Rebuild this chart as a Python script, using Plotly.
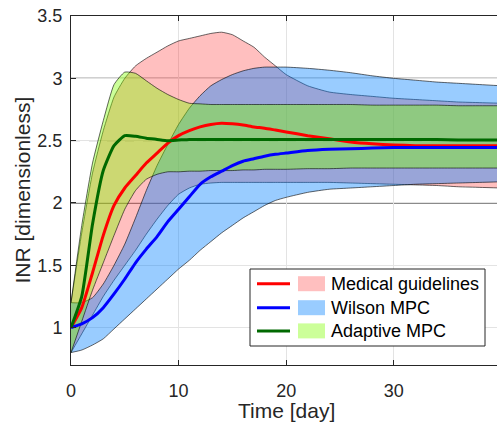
import plotly.graph_objects as go

# ---------------- data ----------------
T = [0, 1, 2, 3, 4, 5, 6, 7, 8, 9, 10, 11, 12, 13, 14, 15, 16, 17, 18, 19, 20,
     22, 24, 26, 28, 30, 32, 34, 36, 38, 40]

med_mean = [1.00, 1.16, 1.44, 1.74, 1.98, 2.12, 2.22, 2.32, 2.40, 2.48, 2.54, 2.58, 2.61, 2.63, 2.64,
            2.635, 2.625, 2.61, 2.60, 2.585, 2.57, 2.54, 2.515, 2.49, 2.475, 2.465, 2.46, 2.46, 2.46, 2.46, 2.46]
med_upper = [1.20, 1.76, 2.24, 2.58, 2.85, 3.00, 3.10, 3.16, 3.21, 3.26, 3.30, 3.32, 3.34, 3.36, 3.37,
             3.35, 3.30, 3.25, 3.17, 3.10, 3.03, 2.94, 2.89, 2.87, 2.855, 2.84, 2.83, 2.82, 2.81, 2.805, 2.80]
med_lower = [0.80, 0.95, 1.10, 1.25, 1.38, 1.50, 1.62, 1.75, 1.87, 1.98, 2.07, 2.12, 2.15, 2.16, 2.165,
             2.165, 2.165, 2.165, 2.165, 2.165, 2.165, 2.165, 2.165, 2.16, 2.155, 2.15, 2.145, 2.14, 2.13, 2.125, 2.12]

wil_mean = [1.00, 1.03, 1.08, 1.16, 1.27, 1.39, 1.52, 1.63, 1.73, 1.85, 1.95, 2.05, 2.15, 2.21, 2.255,
            2.30, 2.335, 2.355, 2.375, 2.39, 2.40, 2.42, 2.43, 2.435, 2.44, 2.445, 2.445, 2.445, 2.445, 2.445, 2.445]
wil_upper = [1.20, 1.20, 1.24, 1.35, 1.50, 1.67, 1.88, 2.10, 2.30, 2.47, 2.63, 2.76, 2.86, 2.94, 2.99,
             3.03, 3.06, 3.08, 3.09, 3.09, 3.09, 3.08, 3.065, 3.045, 3.02, 3.00, 2.985, 2.97, 2.96, 2.95, 2.94]
wil_lower = [0.80, 0.82, 0.86, 0.91, 0.99, 1.07, 1.15, 1.23, 1.31, 1.39, 1.47, 1.54, 1.62, 1.69, 1.76,
             1.82, 1.88, 1.93, 1.98, 2.02, 2.045, 2.085, 2.11, 2.12, 2.13, 2.14, 2.15, 2.155, 2.16, 2.165, 2.17]

ada_mean = [1.00, 1.25, 1.83, 2.26, 2.46, 2.54, 2.535, 2.52, 2.51, 2.50, 2.505, 2.51, 2.51, 2.51, 2.51,
            2.51, 2.51, 2.51, 2.51, 2.51, 2.51, 2.51, 2.51, 2.51, 2.51, 2.51, 2.51, 2.51, 2.505, 2.505, 2.505]
ada_upper = [1.20, 1.82, 2.32, 2.66, 2.95, 3.05, 3.04, 2.98, 2.92, 2.87, 2.83, 2.80, 2.795, 2.79, 2.79,
             2.79, 2.79, 2.79, 2.79, 2.79, 2.79, 2.79, 2.79, 2.79, 2.785, 2.785, 2.785, 2.785, 2.78, 2.78, 2.78]
ada_lower = [0.80, 1.05, 1.30, 1.52, 1.74, 1.95, 2.10, 2.19, 2.23, 2.25, 2.25, 2.255, 2.255, 2.26, 2.26,
             2.26, 2.265, 2.265, 2.27, 2.27, 2.27, 2.275, 2.275, 2.28, 2.28, 2.28, 2.28, 2.28, 2.28, 2.28, 2.28]

labels = ["Medical guidelines", "Wilson MPC", "Adaptive MPC"]
line_colors = ["rgb(255,0,0)", "rgb(0,0,255)", "rgb(0,105,0)"]
fill_colors = ["rgba(255,0,0,0.25)", "rgba(0,128,255,0.4)", "rgba(128,255,0,0.4)"]

x_ticks = [0, 10, 20, 30]
y_ticks = [1, 1.5, 2, 2.5, 3, 3.5]
y_ticktext = ["1", "1.5", "2", "2.5", "3", "3.5"]

FONT = "Liberation Sans, Arial, Helvetica, sans-serif"
AX = "#262626"

fig = go.Figure()

edge = dict(color="rgba(0,0,0,0.85)", width=0.7, shape="spline", smoothing=0.5)

for up, lo, fc in [(med_upper, med_lower, fill_colors[0]),
                   (wil_upper, wil_lower, fill_colors[1]),
                   (ada_upper, ada_lower, fill_colors[2])]:
    fig.add_trace(go.Scatter(x=T, y=up, mode="lines", line=edge,
                             showlegend=False, hoverinfo="skip"))
    fig.add_trace(go.Scatter(x=T, y=lo, mode="lines", line=edge, fill="tonexty",
                             fillcolor=fc, showlegend=False, hoverinfo="skip"))

for ys, c in [(med_mean, line_colors[0]), (wil_mean, line_colors[1]), (ada_mean, line_colors[2])]:
    fig.add_trace(go.Scatter(x=T, y=ys, mode="lines",
                             line=dict(color=c, width=3, shape="spline", smoothing=0.5),
                             showlegend=False, hoverinfo="skip"))

# reference lines
shapes = [
    dict(type="line", xref="paper", x0=0, x1=1, yref="y", y0=2, y1=2,
         line=dict(color="black", width=1), layer="below"),
    dict(type="line", xref="paper", x0=0, x1=1, yref="y", y0=3, y1=3,
         line=dict(color="black", width=1), layer="below"),
    dict(type="line", xref="paper", x0=0, x1=1, yref="y", y0=2.5, y1=2.5,
         line=dict(color="#555555", width=1, dash="dash"), layer="below"),
]

# manual legend (pixel -> paper helpers)
L, R, TOP, BOT = 71, 497, 16, 365
def px(xp):
    return (xp - L) / (R - L)
def py(yp):
    return (BOT - yp) / (BOT - TOP)

shapes.append(dict(type="rect", xref="paper", yref="paper",
                   x0=px(250), x1=px(485), y0=py(269), y1=py(346),
                   fillcolor="white", line=dict(color=AX, width=1), layer="above"))
annotations = []
rows = [283.7, 307.7, 330.9]
for i, ry in enumerate(rows):
    shapes.append(dict(type="line", xref="paper", yref="paper",
                       x0=px(257), x1=px(290), y0=py(ry), y1=py(ry),
                       line=dict(color=line_colors[i], width=3), layer="above"))
    shapes.append(dict(type="rect", xref="paper", yref="paper",
                       x0=px(298), x1=px(325), y0=py(ry - 7.5), y1=py(ry + 7.5),
                       fillcolor=fill_colors[i], line=dict(width=0), layer="above"))
    annotations.append(dict(text=labels[i], xref="paper", yref="paper",
                            x=px(329), y=py(ry + 0.5), xanchor="left", yanchor="middle",
                            showarrow=False, font=dict(family=FONT, size=18, color="black")))

annotations.append(dict(text="Time [day]", xref="x", yref="paper", x=20, y=py(410),
                        xanchor="center", yanchor="middle", showarrow=False,
                        font=dict(family=FONT, size=21, color=AX)))
annotations.append(dict(text="INR [dimensionless]", xref="paper", yref="paper",
                        x=px(22), y=py(190.5), xanchor="center", yanchor="middle",
                        textangle=-90, showarrow=False,
                        font=dict(family=FONT, size=21, color=AX)))

fig.update_layout(
    width=497, height=424,
    margin=dict(l=L, r=0, t=TOP, b=424 - BOT),
    plot_bgcolor="white", paper_bgcolor="white",
    font=dict(family=FONT, color=AX),
    shapes=shapes, annotations=annotations,
    showlegend=False,
    xaxis=dict(range=[0, 39.6], tickvals=x_ticks, ticks="inside", ticklen=5,
               tickcolor=AX, showline=True, linecolor=AX, linewidth=1, mirror="ticks",
               showgrid=True, gridcolor="#e3e3e3", gridwidth=1, zeroline=False,
               tickfont=dict(size=18, color=AX), ticklabelstandoff=9),
    yaxis=dict(range=[0.7, 3.5], tickvals=y_ticks, ticktext=y_ticktext, ticks="inside",
               ticklen=5, tickcolor=AX, showline=True, linecolor=AX, linewidth=1,
               mirror=False, showgrid=True, gridcolor="#e3e3e3", gridwidth=1,
               zeroline=False, tickfont=dict(size=18, color=AX), ticklabelstandoff=4),
)

fig.write_html("out.html", config={"displayModeBar": False},
               post_script="document.body.style.margin='0px';")
